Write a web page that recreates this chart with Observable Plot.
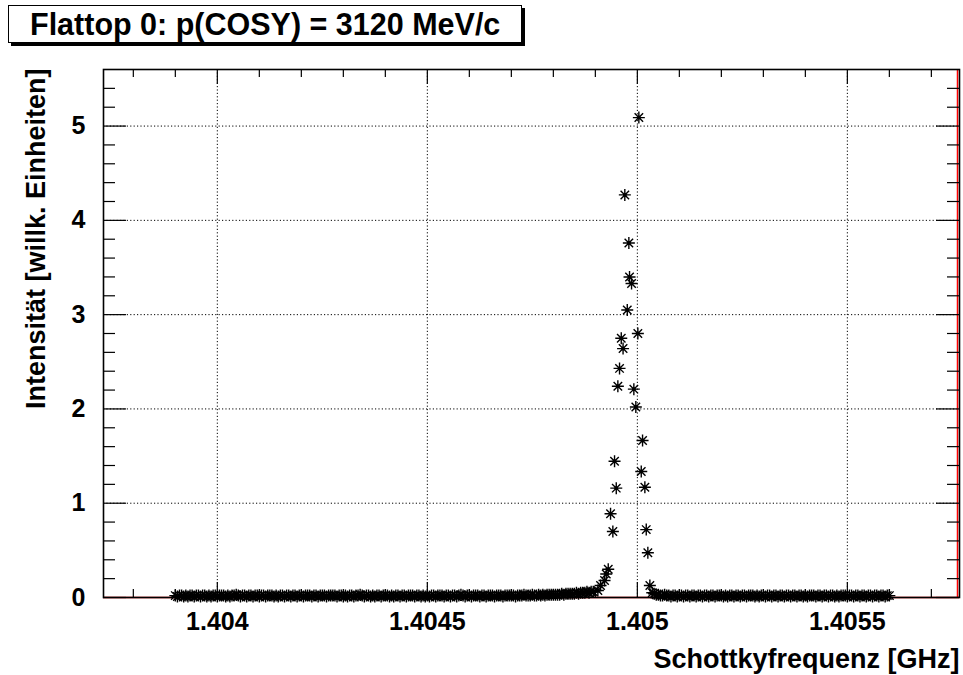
<!DOCTYPE html>
<html>
<head>
<meta charset="utf-8">
<script src="https://cdn.jsdelivr.net/npm/d3@7"></script>
<script src="https://cdn.jsdelivr.net/npm/@observablehq/plot@0.6"></script>
<style>
  html, body { margin: 0; padding: 0; background: #fff; }
  #wrap { position: relative; width: 963px; height: 675px; }
  #title {
    position: absolute; left: 8px; top: 5px; width: 512px; height: 36px;
    border: 1px solid #000; box-shadow: 3px 3px 0 #000; background: #fff;
    font-family: "Liberation Sans", Arial, sans-serif; font-weight: bold;
    font-size: 30.5px; line-height: 37px; box-sizing: content-box;
    padding-left: 0; text-indent: 21px; white-space: nowrap; color: #000;
  }
</style>
</head>
<body>
<div id="wrap"><div id="title">Flattop 0: p(COSY) = 3120 MeV/c</div></div>
<script>
// ---- Data ----
const titleText = "Flattop 0: p(COSY) = 3120 MeV/c";
const xTitle = "Schottkyfrequenz [GHz]";
const yTitle = "Intensität [willk. Einheiten]";

const xDomain = [1.403729, 1.405767];
const yDomain = [0, 5.6];

const xMajor = [1.404, 1.4045, 1.405, 1.4055];
const xMajorLabels = ["1.404", "1.4045", "1.405", "1.4055"];
const xMinor = [1.4038, 1.4039, 1.4041, 1.4042, 1.4043, 1.4044, 1.4046, 1.4047, 1.4048, 1.4049,
                1.4051, 1.4052, 1.4053, 1.4054, 1.4056, 1.4057];
const yMajor = [0, 1, 2, 3, 4, 5];
const yMajorLabels = ["0", "1", "2", "3", "4", "5"];
const yMinor = [0.2, 0.4, 0.6, 0.8, 1.2, 1.4, 1.6, 1.8, 2.2, 2.4, 2.6, 2.8, 3.2, 3.4, 3.6, 3.8,
                4.2, 4.4, 4.6, 4.8, 5.2, 5.4];

// frequency bins of the flat baseline around the peak (GHz): first bin and bin width
const leftBinStart = 1.40390;
const rightBinStart = 1.40504;
const binWidth = 0.000005;

const leftBaseline = [
  0.02,0.01,0.02,0.02,0.01,0.02,0.01,0.02,0.02,0.01,0.02,0.02,0.01,0.02,0.02,0.01,0.02,0.01,0.02,0.02,
  0.01,0.02,0.02,0.02,0.01,0.02,0.01,0.02,0.02,0.03,0.02,0.01,0.02,0.02,0.01,0.02,0.02,0.01,0.02,0.02,
  0.01,0.02,0.02,0.01,0.02,0.02,0.02,0.01,0.02,0.01,0.02,0.02,0.01,0.02,0.02,0.01,0.02,0.02,0.01,0.02,
  0.02,0.01,0.02,0.02,0.02,0.01,0.02,0.02,0.01,0.02,0.02,0.02,0.01,0.02,0.02,0.02,0.02,0.01,0.02,0.02,
  0.01,0.02,0.01,0.02,0.02,0.01,0.02,0.02,0.03,0.02,0.01,0.02,0.02,0.01,0.02,0.01,0.02,0.02,0.01,0.02,
  0.02,0.02,0.01,0.02,0.01,0.02,0.02,0.01,0.02,0.02,0.01,0.02,0.02,0.02,0.01,0.02,0.02,0.01,0.02,0.01,
  0.02,0.01,0.02,0.02,0.01,0.02,0.02,0.02,0.01,0.02,0.02,0.01,0.02,0.02,0.01,0.02,0.03,0.02,0.01,0.02,
  0.02,0.01,0.02,0.02,0.02,0.01,0.02,0.02,0.01,0.02,0.02,0.02,0.01,0.02,0.02,0.02,0.01,0.02,0.02,0.02,
  0.02,0.02,0.01,0.02,0.02,0.02,0.03,0.02,0.02,0.02,0.03,0.02,0.02,0.03,0.02,0.03,0.02,0.03,0.03,0.03,
  0.03,0.03,0.03,0.03,0.04,0.03,0.04,0.04,0.04,0.04,0.04,0.05,0.04,0.05,0.05,0.05,0.06,0.05,0.06,0.06
];
const rightBaseline = [
  0.04,0.03,0.03,0.02,0.02,0.03,0.02,0.02,0.01,0.02,0.02,0.01,0.02,0.02,0.01,0.02,0.02,0.01,0.02,0.02,
  0.01,0.02,0.02,0.01,0.02,0.02,0.01,0.02,0.02,0.01,0.02,0.02,0.02,0.01,0.02,0.01,0.02,0.02,0.01,0.02,
  0.02,0.01,0.02,0.02,0.01,0.02,0.02,0.02,0.01,0.02,0.01,0.02,0.02,0.01,0.02,0.02,0.01,0.02,0.02,0.01,
  0.02,0.02,0.01,0.02,0.02,0.01,0.02,0.02,0.01,0.02,0.02,0.01,0.02,0.01,0.02,0.02,0.02,0.01,0.02,0.02,
  0.01,0.02,0.02,0.01,0.02,0.02,0.01,0.02,0.01,0.02,0.02,0.02,0.01,0.02,0.02,0.01,0.02,0.02,0.01,0.02,
  0.02,0.01,0.02,0.02,0.01,0.02,0.02,0.01,0.02,0.02,0.01,0.02,0.02
];

const peakFreq = [
  1.4049060, 1.4049124, 1.4049219, 1.4049260, 1.4049307, 1.4049362, 1.4049417, 1.4049457,
  1.4049498, 1.4049536, 1.4049576, 1.4049617, 1.4049660, 1.4049702, 1.4049760, 1.4049798,
  1.4049814, 1.4049862, 1.4049917, 1.4049964, 1.4050012, 1.4050036, 1.4050093, 1.4050124,
  1.4050179, 1.4050212, 1.4050250, 1.4050298, 1.4050355
];
const peakVal = [
  0.074, 0.127, 0.18, 0.25, 0.30, 0.888, 0.70, 1.445,
  1.16, 2.24, 2.43, 2.75, 2.64, 4.27, 3.05, 3.76,
  3.40, 3.33, 2.21, 2.02, 2.80, 5.09, 1.336, 1.665,
  1.17, 0.72, 0.474, 0.127, 0.05
];

// ---- Build table ----
const points = [
  ...leftBaseline.map((v, i) => ({f: leftBinStart + i * binWidth, v})),
  ...peakFreq.map((f, i) => ({f, v: peakVal[i]})),
  ...rightBaseline.map((v, i) => ({f: rightBinStart + i * binWidth, v}))
];

// ---- Layout ----
const W = 963, H = 675;
const mT = 69, mB = 78, mL = 103, mR = 4;
const frameW = W - mL - mR, frameH = H - mT - mB;
const FONT = "'Liberation Sans', Arial, Helvetica, sans-serif";

// ROOT-style asterisk marker (+ and x)
const star = {
  draw(ctx, size) {
    const r = Math.sqrt(size / Math.PI);
    const d = r * Math.SQRT1_2;
    ctx.moveTo(-r, 0); ctx.lineTo(r, 0);
    ctx.moveTo(0, -r); ctx.lineTo(0, r);
    ctx.moveTo(-d, -d); ctx.lineTo(d, d);
    ctx.moveTo(-d, d); ctx.lineTo(d, -d);
  }
};

const red = "#ff0000";
const dash = "1.2,2.2";

const chart = Plot.plot({
  width: W, height: H,
  marginTop: mT, marginBottom: mB, marginLeft: mL, marginRight: mR,
  style: {fontFamily: FONT, fontWeight: "bold", fontSize: "25px", color: "#000", background: "#fff"},
  x: {domain: xDomain, axis: null},
  y: {domain: yDomain, axis: null},
  marks: [
    // dotted grid
    Plot.ruleX(xMajor, {x: d => d, stroke: "#000", strokeWidth: 1, strokeDasharray: dash}),
    Plot.ruleY(yMajor.filter(d => d > 0), {y: d => d, stroke: "#000", strokeWidth: 1, strokeDasharray: dash}),
    // red zero-level histogram outline
    Plot.ruleY([0], {y: d => d, stroke: red, strokeWidth: 1.5}),
    Plot.ruleX([xDomain[1]], {x: d => d, stroke: red, strokeWidth: 1.5, dx: -2}),
    // data
    Plot.dot(points, {x: "f", y: "v", symbol: star, r: 6, stroke: "#000", strokeWidth: 1.4, fill: "none"}),
    Plot.dot(points, {x: "f", y: "v", r: 1.8, fill: "#000", stroke: "none"}),
    // ticks bottom / top
    Plot.tickX(xMajor, {x: d => d, insetTop: frameH - 15, stroke: "#000", strokeWidth: 1.2}),
    Plot.tickX(xMinor, {x: d => d, insetTop: frameH - 8, stroke: "#000", strokeWidth: 1.2}),
    Plot.tickX(xMajor, {x: d => d, insetBottom: frameH - 15, stroke: "#000", strokeWidth: 1.2}),
    Plot.tickX(xMinor, {x: d => d, insetBottom: frameH - 8, stroke: "#000", strokeWidth: 1.2}),
    // ticks left / right
    Plot.tickY(yMajor, {y: d => d, insetRight: frameW - 23, stroke: "#000", strokeWidth: 1.2}),
    Plot.tickY(yMinor, {y: d => d, insetRight: frameW - 12, stroke: "#000", strokeWidth: 1.2}),
    Plot.tickY(yMajor, {y: d => d, insetLeft: frameW - 23, stroke: "#000", strokeWidth: 1.2}),
    Plot.tickY(yMinor, {y: d => d, insetLeft: frameW - 12, stroke: "#000", strokeWidth: 1.2}),
    // axes labels
    Plot.axisX({ticks: xMajor, tickSize: 0, tickPadding: 15, tickFormat: (d, i) => xMajorLabels[i],
                fontSize: 25, fontWeight: "bold", label: null}),
    Plot.axisY({ticks: yMajor, tickSize: 0, tickPadding: 18, tickFormat: (d, i) => yMajorLabels[i],
                fontSize: 25, fontWeight: "bold", label: null}),
    // axis titles
    Plot.text([xTitle], {text: d => d, frameAnchor: "bottom-right", textAnchor: "end", lineAnchor: "bottom",
                         dy: 70, fontSize: 27, fontWeight: "bold"}),
    Plot.text([yTitle], {text: d => d, frameAnchor: "top-left", textAnchor: "end", lineAnchor: "bottom",
                         rotate: -90, dx: -59, dy: -1, fontSize: 27, fontWeight: "bold"}),
    Plot.frame({stroke: "#000", strokeWidth: 1.6})
  ]
});

const wrap = document.getElementById("wrap");
chart.style.position = "absolute";
chart.style.left = "0px";
chart.style.top = "0px";
wrap.insertBefore(chart, wrap.firstChild);
document.getElementById("title").textContent = titleText;
</script>
</body>
</html>
